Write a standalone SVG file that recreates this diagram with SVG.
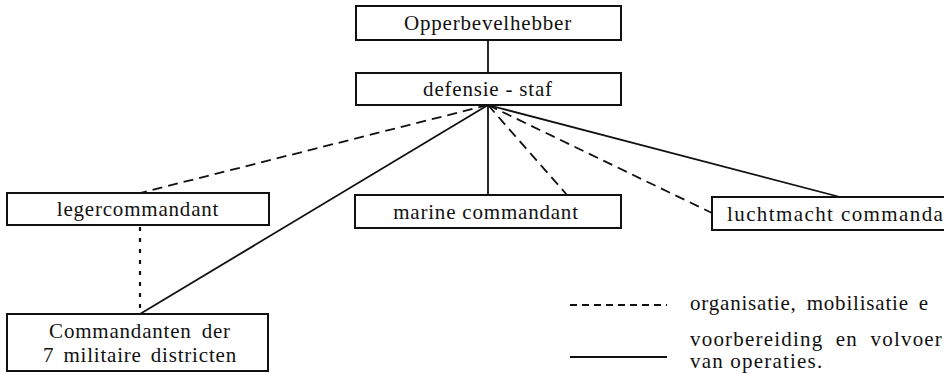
<svg xmlns="http://www.w3.org/2000/svg" width="944" height="374" viewBox="0 0 944 374" font-family="Liberation Serif, Times New Roman, DejaVu Serif, serif">
<style>
.box{fill:#fff;stroke:#111;stroke-width:2}
.t{font-size:21px;fill:#111;letter-spacing:0.8px}
.solid{stroke:#111;stroke-width:1.8;fill:none}
.dash{stroke:#111;stroke-width:1.8;fill:none;stroke-dasharray:10 6}
.dot{stroke:#111;stroke-width:2.2;fill:none;stroke-dasharray:4 7}
</style>
<rect width="944" height="374" fill="#fff"/>
<g id="connectors">
<line class="solid" x1="488" y1="40" x2="488" y2="73"/>
<line class="dash" x1="488" y1="105" x2="140" y2="193"/>
<line class="solid" x1="488" y1="105" x2="140" y2="314"/>
<line class="solid" x1="488" y1="105" x2="488" y2="195"/>
<line class="dash" x1="488" y1="105" x2="567" y2="195"/>
<line class="dash" x1="488" y1="105" x2="712" y2="213"/>
<line class="solid" x1="488" y1="105" x2="840" y2="197"/>
<line class="dot" x1="140" y1="227" x2="140" y2="314"/>
</g>
<g id="opperbevelhebber">
<rect class="box" x="356" y="6" width="265" height="34"/>
<text class="t" x="488" y="30" text-anchor="middle">Opperbevelhebber</text>
</g>
<g id="defensie-staf">
<rect class="box" x="356" y="73" width="265" height="32"/>
<text class="t" x="488" y="96" text-anchor="middle">defensie - staf</text>
</g>
<g id="legercommandant">
<rect class="box" x="7" y="193" width="262" height="32"/>
<text class="t" x="138" y="216" text-anchor="middle">legercommandant</text>
</g>
<g id="marine-commandant">
<rect class="box" x="355" y="195" width="266" height="33"/>
<text class="t" x="486" y="219" text-anchor="middle">marine commandant</text>
</g>
<g id="luchtmacht-commandant">
<path class="box" d="M944 197 H712 V230 H944"/>
<text class="t" x="727" y="221" style="letter-spacing:1.4px">luchtmacht commanda</text>
</g>
<g id="commandanten">
<rect class="box" x="7" y="314" width="261" height="57"/>
<text class="t" x="140" y="338" text-anchor="middle" word-spacing="4">Commandanten der</text>
<text class="t" x="140" y="362" text-anchor="middle" word-spacing="3">7 militaire districten</text>
</g>
<g id="legend">
<line class="solid" x1="570" y1="305" x2="667" y2="305" style="stroke-dasharray:7 5"/>
<text class="t" x="690" y="310" word-spacing="4">organisatie, mobilisatie e</text>
<line class="solid" x1="570" y1="357" x2="667" y2="357"/>
<text class="t" x="690" y="346" font-size="19" word-spacing="6" style="letter-spacing:1.2px">voorbereiding en volvoer</text>
<text class="t" x="690" y="368" font-size="19" style="letter-spacing:1.2px">van operaties.</text>
</g>
</svg>
